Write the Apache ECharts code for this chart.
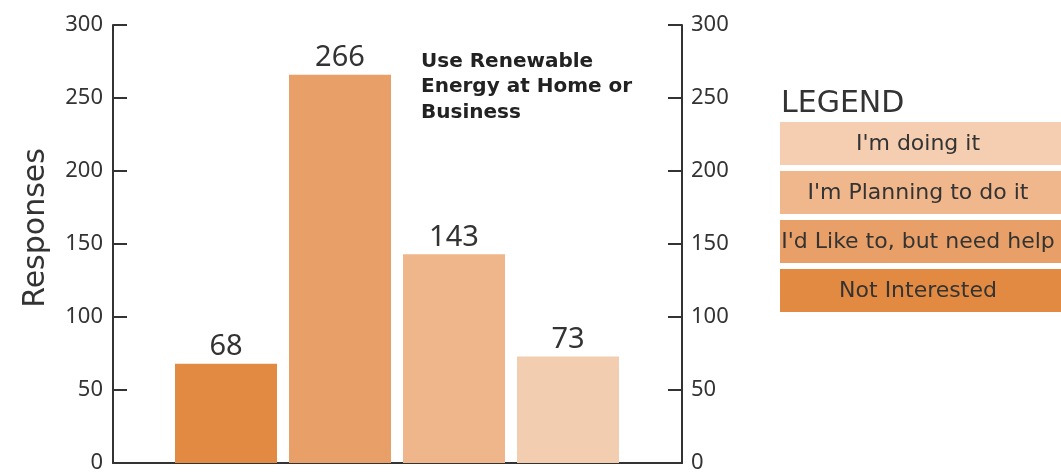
<!DOCTYPE html>
<html>
<head>
<meta charset="utf-8">
<script src="https://cdn.jsdelivr.net/npm/echarts@6/dist/echarts.min.js"></script>
<style>
  html, body { margin: 0; padding: 0; background: #fff; }
  #main { width: 1061px; height: 474px; }
</style>
</head>
<body>
<div id="main"></div>
<script>
// data
var categories = ['Not Interested', "I'd Like to, but need help", "I'm Planning to do it", "I'm doing it"];
var responses = [68, 266, 143, 73];
var barColors = ['#E38A42', '#E9A068', '#EFB68C', '#F3CDB0'];
var yTicks = [0, 50, 100, 150, 200, 250, 300];
// legend is listed top to bottom (lightest first)
var legendLabels = ["I'm doing it", "I'm Planning to do it", "I'd Like to, but need help", 'Not Interested'];
var legendColors = ['#F5CDB0', '#F0B68C', '#E9A068', '#E38A42'];

var wideFont = 'DejaVu Sans';
var axisFont = 'Noto Sans';
var chart = echarts.init(document.getElementById('main'));

var legendItems = [{
  type: 'text',
  left: 781, top: 89,
  style: { text: 'LEGEND', font: '30px "' + wideFont + '"', fill: '#333' }
}];
legendLabels.forEach(function (name, i) {
  var top = 122 + i * 49;
  legendItems.push({
    type: 'rect',
    shape: { x: 780, y: top, width: 290, height: 43 },
    style: { fill: legendColors[i] }
  });
  legendItems.push({
    type: 'text',
    x: 918, y: top + 22,
    style: {
      text: name, font: '22px "' + wideFont + '"', fill: '#333',
      align: 'center', verticalAlign: 'middle'
    }
  });
});

chart.setOption({
  animation: false,
  textStyle: { fontFamily: axisFont },
  title: {
    text: 'Use Renewable\nEnergy at Home or\nBusiness',
    left: 416, top: 44,
    textStyle: { fontFamily: wideFont, fontSize: 20, fontWeight: 'bold', color: '#222', lineHeight: 25.5 }
  },
  grid: [
    { left: 113, width: 569, top: 25, height: 438 },
    { left: 169, width: 456, top: 25, height: 438 }
  ],
  xAxis: [
    {
      gridIndex: 0, type: 'value', min: 0, max: 1,
      axisLine: { show: true, lineStyle: { color: '#333', width: 2 } },
      axisTick: { show: false }, axisLabel: { show: false }, splitLine: { show: false }
    },
    {
      gridIndex: 1, type: 'category', data: categories,
      axisLine: { show: false }, axisTick: { show: false }, axisLabel: { show: false }
    }
  ],
  yAxis: [
    {
      gridIndex: 0, type: 'value', min: 0, max: 300, interval: 50, position: 'left',
      name: 'Responses', nameLocation: 'middle', nameGap: 62,
      nameTextStyle: { fontFamily: wideFont, fontSize: 30, color: '#333', padding: [0, 0, 0, 32] },
      axisLine: { show: true, lineStyle: { color: '#333', width: 2 } },
      axisTick: { show: true, inside: true, length: 14, lineStyle: { color: '#333', width: 2 } },
      axisLabel: { fontSize: 22, color: '#333', margin: 10 },
      splitLine: { show: false }
    },
    {
      gridIndex: 0, type: 'value', min: 0, max: 300, interval: 50, position: 'right',
      axisLine: { show: true, lineStyle: { color: '#333', width: 2 } },
      axisTick: { show: true, inside: true, length: 14, lineStyle: { color: '#333', width: 2 } },
      axisLabel: { fontSize: 22, color: '#333', margin: 9 },
      splitLine: { show: false }
    },
    {
      gridIndex: 1, type: 'value', min: 0, max: 300, show: false
    }
  ],
  series: [{
    type: 'bar',
    xAxisIndex: 1, yAxisIndex: 2,
    barWidth: 102,
    data: responses.map(function (v, i) {
      return { value: v, itemStyle: { color: barColors[i] } };
    }),
    label: {
      show: true, position: 'top', distance: 2,
      fontSize: 29, color: '#333'
    }
  }],
  graphic: legendItems
});
</script>
</body>
</html>
